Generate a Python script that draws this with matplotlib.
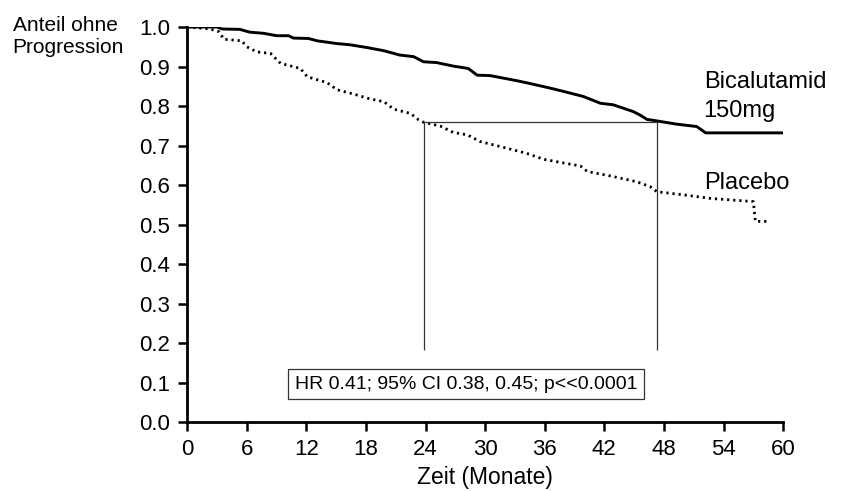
import matplotlib.pyplot as plt

plt.rcParams['font.family'] = ['Liberation Sans', 'DejaVu Sans']

# Bicalutamid 150mg (solid)
bic_t = [0, 3.0, 3.5, 5.3, 6.3, 7.7, 9.0, 10.2, 10.7, 12.2, 13.1, 15.1, 16.4, 18.1,
         19.8, 21.4, 22.8, 23.8, 25.1, 26.8, 28.3, 29.2, 30.5, 33.2, 34.5, 36.6,
         38.2, 39.9, 41.6, 42.9, 44.9, 45.6, 46.3, 47.1, 49.3, 51.3, 52.2, 59.9]
bic_s = [1.0, 1.0, 0.995, 0.994, 0.987, 0.984, 0.978, 0.978, 0.972, 0.971, 0.965,
         0.958, 0.955, 0.948, 0.940, 0.929, 0.925, 0.912, 0.910, 0.901, 0.895,
         0.878, 0.877, 0.864, 0.857, 0.845, 0.835, 0.824, 0.807, 0.803, 0.786,
         0.777, 0.766, 0.763, 0.754, 0.748, 0.732, 0.732]

# Placebo (dotted)
pla_t = [0, 2.3, 3.2, 3.7, 5.5, 6.0, 7.0, 8.4, 9.4, 11.4, 12.1, 14.1, 15.1, 16.8,
         18.4, 19.8, 20.8, 22.5, 23.3, 23.8, 25.5, 26.8, 28.2, 29.5, 31.9, 34.2,
         35.9, 39.6, 40.3, 42.6, 45.3, 46.6, 47.3, 50.0, 52.7, 57.0, 57.2, 58.7]
pla_s = [1.0, 0.995, 0.988, 0.969, 0.965, 0.950, 0.937, 0.933, 0.908, 0.895,
         0.874, 0.859, 0.841, 0.830, 0.818, 0.811, 0.792, 0.781, 0.765, 0.759,
         0.749, 0.733, 0.727, 0.710, 0.695, 0.680, 0.665, 0.648, 0.634, 0.623,
         0.608, 0.596, 0.583, 0.575, 0.566, 0.558, 0.508, 0.508]

# median-style reference lines
ref_level = 0.76
ref_x = [23.8, 47.3]
ref_bottom = 0.182

xticks = list(range(0, 61, 6))
yticks = [i / 10 for i in range(11)]

fig = plt.figure(figsize=(8.43, 4.91), dpi=100)
ax = fig.add_axes([0.222, 0.1405, 0.707, 0.8045])

ax.plot(bic_t, bic_s, color='black', lw=2.1, solid_joinstyle='round')
ax.plot(pla_t, pla_s, color='black', lw=2.0, linestyle=(0, (0.8, 1.4)))

ax.hlines(ref_level, ref_x[0], ref_x[1], color='#333333', lw=0.9)
ax.vlines(ref_x, ref_bottom, ref_level, color='#333333', lw=0.9)

ax.text(28.1, 0.096, 'HR 0.41; 95% CI 0.38, 0.45; p<<0.0001', fontsize=14,
        ha='center', va='center',
        bbox=dict(boxstyle='square,pad=0.35', fc='white', ec='#333333', lw=0.9))

ax.text(52.0, 0.845, 'Bicalutamid', fontsize=17, va='baseline')
ax.text(52.0, 0.773, '150mg', fontsize=17, va='baseline')
ax.text(52.0, 0.589, 'Placebo', fontsize=17, va='baseline')

fig.text(0.015, 0.968, 'Anteil ohne\nProgression', fontsize=15, va='top',
         ha='left', linespacing=1.2)

ax.set_xlim(0, 60)
ax.set_ylim(0, 1.0)
ax.set_xticks(xticks)
ax.set_yticks(yticks)
ax.set_yticklabels(['%.1f' % v for v in yticks])
ax.set_xlabel('Zeit (Monate)', fontsize=16.5, labelpad=4)
ax.tick_params(labelsize=16, width=1.8, length=6.5, direction='out', pad=6)

for side in ['top', 'right']:
    ax.spines[side].set_visible(False)
for side in ['left', 'bottom']:
    ax.spines[side].set_linewidth(2.0)

fig.savefig('out.png', dpi=100)
